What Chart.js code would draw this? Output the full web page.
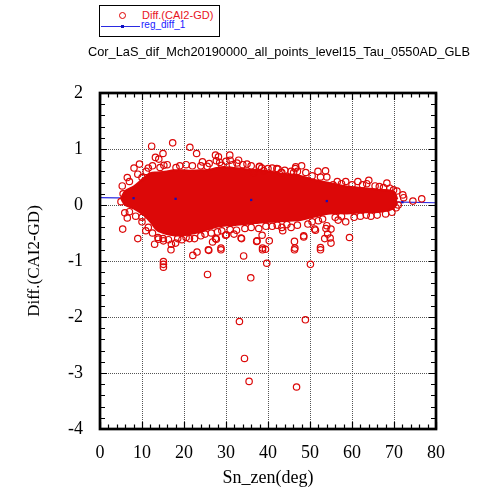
<!DOCTYPE html>
<html>
<head>
<meta charset="utf-8">
<script src="https://cdn.jsdelivr.net/npm/chart.js@4/dist/chart.umd.min.js"></script>
<style>
  html, body { margin: 0; padding: 0; background: #fff; }
  #wrap { position: relative; width: 492px; height: 495px; overflow: hidden; }
  #chart { position: absolute; left: 0; top: 0; }
  #title { position: absolute; left: 0; width: 558px; top: 45px; text-align: center;
           font: 12.8px "Liberation Sans", Arial, sans-serif; line-height: 14px; color: #000; white-space: nowrap; }
  #legend { position: absolute; left: 99px; top: 5px; width: 119px; height: 30px; border: 1px solid #000;
            font-family: "Liberation Sans", Arial, sans-serif; background: #fff; }
  #legend .mk { position: absolute; left: 19px; top: 6px; width: 7px; height: 7px; box-sizing: border-box;
                border: 1px solid #e00000; border-radius: 50%; }
  #legend .t1 { position: absolute; left: 42px; top: 4px; font-size: 11px; line-height: 11px; color: #e8141e; white-space: nowrap; }
  #legend .ln { position: absolute; left: 1px; top: 20px; width: 39px; height: 1px; background: #2a2ae0; }
  #legend .dt { position: absolute; left: 21px; top: 19px; width: 3px; height: 3px; background: #1010c0; }
  #legend .t2 { position: absolute; left: 41px; top: 14px; font-size: 10px; line-height: 10px; color: #1a1aff; white-space: nowrap; }
</style>
</head>
<body>
<div id="wrap">
  <canvas id="chart" width="492" height="495"></canvas>
  <div id="legend">
    <span class="mk"></span><span class="t1">Diff.(CAI2-GD)</span>
    <span class="ln"></span><span class="dt"></span><span class="t2">reg_diff_1</span>
  </div>
  <div id="title">Cor_LaS_dif_Mch20190000_all_points_level15_Tau_0550AD_GLB</div>
</div>
<script>
// Dense core of the cloud: upper / lower envelope along solar zenith angle
const bandX     = [5.0, 6.0, 8.0, 10.4, 12.0, 13.6, 15.9, 17.5, 19.9, 21.5, 23.9, 25.5, 27.8, 29.4, 31.8, 33.4, 35.8, 37.4, 40.6, 42.9, 45.0, 47.7, 50.9, 54.8, 58.8, 62.8, 66.8, 69.9, 70.8];
const bandUpper = [0.12, 0.25, 0.33, 0.48, 0.57, 0.58, 0.60, 0.62, 0.62, 0.61, 0.62, 0.62, 0.66, 0.68, 0.66, 0.65, 0.63, 0.62, 0.60, 0.56, 0.55, 0.52, 0.45, 0.39, 0.33, 0.30, 0.27, 0.24, 0.10];
const bandLower = [0.12, 0.00, -0.06, -0.18, -0.30, -0.45, -0.52, -0.54, -0.54, -0.52, -0.48, -0.44, -0.39, -0.37, -0.36, -0.35, -0.33, -0.32, -0.30, -0.29, -0.28, -0.27, -0.21, -0.15, -0.15, -0.13, -0.12, -0.06, 0.05];

// Individual points around and above the core  [Sn_zen, Diff]
const upperPoints = [
  [12.3,1.05],[17.3,1.11],[21.4,1.03],[23.0,0.92],[13.2,0.85],[14.0,0.82],[15.0,0.92],[9.4,0.73],
  [8.1,0.66],[6.5,0.49],[5.3,0.34],[11.5,0.66],[10.0,0.49],[15.2,0.71],[14.3,0.67],[18.1,0.67],
  [24.4,0.77],[25.5,0.69],[27.5,0.89],[27.7,0.79],[28.2,0.86],[30.9,0.89],[31.0,0.80],[29.0,0.71],
  [32.6,0.75],[33.0,0.80],[35.0,0.73],[37.9,0.68],[38.0,0.69],[40.0,0.65],[42.1,0.65],[42.4,0.64],
  [43.1,0.58],[39.0,0.61],[36.6,0.58],[43.3,0.58],[46.1,0.58],[46.6,0.68],[48.0,0.70],[46.5,0.65],
  [51.9,0.60],[53.7,0.61],[54.0,0.50],[55.5,0.36],[58.5,0.42],[61.4,0.42],[64.0,0.44],[65.5,0.34],
  [68.3,0.39],[69.9,0.27],[70.7,0.25],[72.1,0.18],[72.3,0.13],[74.5,0.07],[76.6,0.11],[5.0,0.06],[5.5,0.20]
];
const upperEdge = [
  [7.0,0.42],[9.0,0.55],[11.0,0.60],[12.5,0.70],[16.0,0.72],[19.0,0.70],[20.5,0.72],[22.0,0.70],
  [24.0,0.70],[26.0,0.74],[28.5,0.76],[30.0,0.78],[31.5,0.72],[34.0,0.72],[36.0,0.70],[38.5,0.66],
  [41.0,0.66],[44.0,0.62],[45.5,0.60],[47.0,0.60],[49.0,0.58],[50.5,0.52],[52.5,0.50],[56.5,0.42],
  [57.5,0.38],[60.0,0.36],[62.5,0.36],[63.5,0.38],[66.5,0.33],[67.5,0.31],[69.0,0.30]
];
// Points below the core, including the far negative outliers
const lowerPoints = [
  [5.4,-0.43],[5.9,-0.14],[6.5,-0.23],[9.0,-0.60],[10.9,-0.46],[10.0,-0.22],[13.0,-0.70],[13.9,-0.61],
  [17.0,-0.70],[16.9,-0.80],[18.0,-0.68],[15.1,-0.64],[21.3,-0.60],[23.1,-0.84],[22.1,-0.90],[25.9,-0.81],
  [25.8,-0.80],[28.8,-0.77],[27.5,-0.60],[27.7,-0.61],[26.8,-0.66],[29.9,-0.54],[30.1,-0.53],[31.9,-0.52],
  [33.6,-0.59],[33.7,-0.60],[34.2,-0.91],[37.3,-0.65],[37.4,-0.64],[38.6,-0.54],[38.7,-0.77],[39.4,-0.79],
  [39.7,-1.04],[40.3,-0.64],[43.3,-0.40],[43.5,-0.46],[46.3,-0.65],[46.4,-0.77],[48.5,-0.57],[48.5,-0.55],
  [50.1,-1.06],[51.1,-0.43],[51.3,-0.45],[52.5,-0.76],[53.5,-0.60],[53.8,-0.42],[54.2,-0.52],[54.8,-0.59],
  [55.0,-0.68],[54.0,-0.37],[55.0,-0.43],[56.7,-0.27],[58.5,-0.30],[59.4,-0.58],[63.4,-0.18],
  [15.1,-1.01],[15.1,-1.06],[15.1,-1.11],[25.6,-1.24],[35.9,-1.30],[38.7,-0.80],[46.3,-0.80],[52.5,-0.80],
  [28.8,-0.80],[33.2,-2.08],[48.9,-2.05],[34.4,-2.74],[35.5,-3.15],[46.8,-3.25]
];
const lowerEdge = [
  [7.0,-0.12],[8.5,-0.20],[10.0,-0.30],[11.5,-0.40],[12.5,-0.50],[13.8,-0.58],[15.0,-0.60],[16.3,-0.62],
  [18.5,-0.60],[19.5,-0.62],[20.5,-0.58],[22.5,-0.60],[24.0,-0.55],[25.0,-0.52],[26.5,-0.50],[28.0,-0.48],
  [29.0,-0.46],[31.0,-0.44],[32.5,-0.45],[34.5,-0.42],[36.0,-0.40],[37.8,-0.42],[39.5,-0.38],[41.0,-0.38],
  [42.2,-0.36],[44.5,-0.35],[45.5,-0.40],[47.0,-0.36],[49.5,-0.34],[50.5,-0.30],[52.0,-0.28],[53.0,-0.25],
  [56.0,-0.22],[57.5,-0.20],[60.5,-0.22],[62.0,-0.20],[64.5,-0.20],[66.0,-0.18],[68.0,-0.16],[69.5,-0.13],
  [70.5,-0.05],[71.0,0.00]
];

// Regression line reg_diff_1 and which of its vertices carry a marker
const regX = [0, 8, 18, 36, 54, 72, 80];
const regY = [0.13, 0.121, 0.11, 0.09, 0.07, 0.05, 0.04];
const regMarked = [false, true, true, true, true, true, false];

// Axis ranges and steps
const xRange = [0, 80], xStep = 10, xMinorStep = 2;
const yRange = [-4, 2], yStep = 1, yMinorStep = 0.2;

const RED = '#dc0808';
const BLUE = '#2a2ae0';
const SERIF = '"Liberation Serif", "Times New Roman", serif';

const toXY = (xs, ys) => xs.map((x, i) => ({ x: x, y: ys[i] }));
const pairs = arr => arr.map(p => ({ x: p[0], y: p[1] }));

// Frame and inward tick marks on all four sides
const framePlugin = {
  id: 'frame',
  afterDraw(chart) {
    const { ctx, chartArea: a, scales } = chart;
    const xs = scales.x, ys = scales.y;
    ctx.save();
    ctx.strokeStyle = '#000';
    ctx.lineWidth = 1.2;
    ctx.beginPath();
    for (let v = xRange[0]; v <= xRange[1] + 1e-9; v += xMinorStep) {
      const major = Math.abs(v / xStep - Math.round(v / xStep)) < 1e-6;
      const len = major ? 7 : 4.5;
      const px = Math.round(xs.getPixelForValue(v)) + 0.5;
      ctx.moveTo(px, a.bottom); ctx.lineTo(px, a.bottom - len);
      ctx.moveTo(px, a.top); ctx.lineTo(px, a.top + len);
    }
    for (let v = yRange[0]; v <= yRange[1] + 1e-9; v += yMinorStep) {
      const major = Math.abs(v / yStep - Math.round(v / yStep)) < 1e-6;
      const len = major ? 7 : 5;
      const py = Math.round(ys.getPixelForValue(v)) + 0.5;
      ctx.moveTo(a.left, py); ctx.lineTo(a.left + len, py);
      ctx.moveTo(a.right, py); ctx.lineTo(a.right - len, py);
    }
    ctx.stroke();
    ctx.lineWidth = 2.7;
    ctx.strokeRect(a.left, a.top, a.right - a.left, a.bottom - a.top);
    ctx.restore();
  }
};

new Chart(document.getElementById('chart'), {
  type: 'scatter',
  data: {
    datasets: [
      { // markers of the regression line, kept on top
        label: 'reg_diff_1 markers', order: 0, showLine: false,
        data: toXY(regX, regY),
        pointRadius: c => regMarked[c.dataIndex] ? 1.6 : 0,
        pointBackgroundColor: '#1010c0', pointBorderWidth: 0, pointStyle: 'rect'
      },
      { // individual circles
        label: 'Diff.(CAI2-GD)', order: 1,
        data: pairs(upperPoints).concat(pairs(upperEdge), pairs(lowerPoints), pairs(lowerEdge)),
        pointRadius: 3.2, pointBorderWidth: 1.2, pointBorderColor: RED,
        pointBackgroundColor: 'rgba(0,0,0,0)', pointStyle: 'circle'
      },
      { // dense core, upper envelope filled down to the lower one
        label: 'core upper', type: 'line', order: 2,
        data: toXY(bandX, bandUpper), fill: '+1', tension: 0.3,
        borderColor: RED, borderWidth: 2, backgroundColor: RED, pointRadius: 0
      },
      {
        label: 'core lower', type: 'line', order: 3,
        data: toXY(bandX, bandLower), fill: false, tension: 0.3,
        borderColor: RED, borderWidth: 2, pointRadius: 0
      },
      { // regression line
        label: 'reg_diff_1', type: 'line', order: 4,
        data: toXY(regX, regY), fill: false, tension: 0,
        borderColor: BLUE, borderWidth: 1.2, pointRadius: 0
      }
    ]
  },
  options: {
    responsive: false,
    animation: false,
    devicePixelRatio: 1,
    layout: { padding: { top: 93, right: 56, left: 0, bottom: 0 } },
    plugins: { legend: { display: false }, tooltip: { enabled: false }, title: { display: false } },
    scales: {
      x: {
        type: 'linear', position: 'bottom', min: xRange[0], max: xRange[1],
        ticks: { stepSize: xStep, color: '#000', font: { family: SERIF, size: 18 }, padding: 13, maxRotation: 0 },
        grid: { color: '#555', lineWidth: 1, drawTicks: false },
        border: { display: false, dash: [1, 1] },
        title: { display: true, text: 'Sn_zen(deg)', color: '#000', font: { family: SERIF, size: 18 }, padding: { top: 0, bottom: 6 } },
        afterFit(s) { s.height = 66; }
      },
      y: {
        type: 'linear', position: 'left', min: yRange[0], max: yRange[1],
        ticks: { stepSize: yStep, color: '#000', font: { family: SERIF, size: 18 }, padding: 17 },
        grid: { color: '#555', lineWidth: 1, drawTicks: false },
        border: { display: false, dash: [1, 1] },
        title: { display: true, text: 'Diff.(CAI2-GD)', color: '#000', font: { family: SERIF, size: 17 }, padding: { top: 24, bottom: 0 } },
        afterFit(s) { s.width = 100; }
      }
    }
  },
  plugins: [framePlugin]
});
</script>
</body>
</html>
